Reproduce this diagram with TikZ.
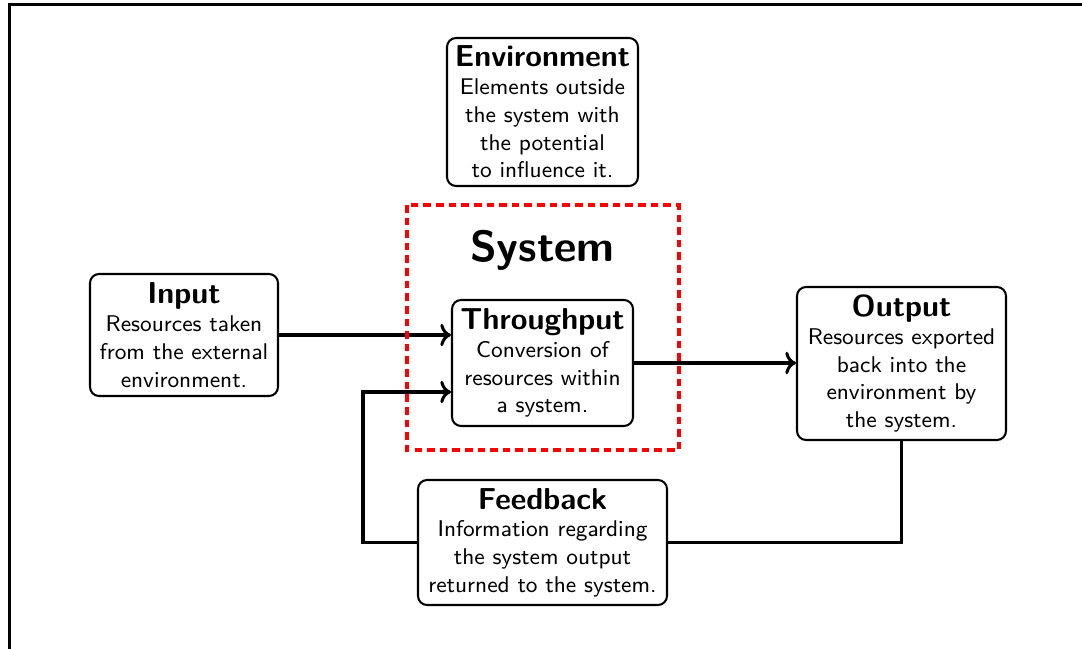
\documentclass[tikz,border=0pt]{standalone}
\usetikzlibrary{arrows.meta}
% one drawing unit = 1/2.525 pt
\def\pxu{0.39604pt}
\newcommand\boxtitle{\large\bfseries}
\begin{document}
\begin{tikzpicture}[x=\pxu,y=-\pxu,
  box/.style={draw, thick, rounded corners=3.6pt, fill=white,
    align=center, inner sep=0pt, font=\small\sffamily},
  flow/.style={very thick},
  flowarrow/.style={flow, ->},
  sysframe/.style={red, very thick, densely dashed},
]
\useasboundingbox (0,0) rectangle (1082,649);

% outer frame (only its top and left edges fall on the page)
\begin{scope}
  \clip (0,0) rectangle (1082,649);
  \draw[line width=1.4pt] (9.5,700) -- (9.5,4.5) -- (1100,4.5);
\end{scope}

% component boxes
\node[box, minimum width={191*\pxu}, minimum height={148*\pxu}] (env) at (542.5,112)
  {{\boxtitle Environment}\\ Elements outside\\ the system with\\ the potential\\ to influence it.};
\node[box, minimum width={188*\pxu}, minimum height={122*\pxu}] (input) at (184,335)
  {{\boxtitle Input}\\ Resources taken\\ from the external\\ environment.};
\node[box, minimum width={181*\pxu}, minimum height={126*\pxu}] (thru) at (542.5,363)
  {{\boxtitle Throughput}\\ Conversion of\\ resources within\\ a system.};
\node[box, minimum width={209*\pxu}, minimum height={153*\pxu}] (out) at (901.5,363.5)
  {{\boxtitle Output}\\ Resources exported\\ back into the\\ environment by\\ the system.};
\node[box, minimum width={249*\pxu}, minimum height={125*\pxu}] (fb) at (542.5,542.5)
  {{\boxtitle Feedback}\\ Information regarding\\ the system output\\ returned to the system.};

% connectors
\coordinate (fbcorner) at (363,392);
\coordinate (outcorner) at (out.south |- fb.east);
\draw[flowarrow] (input.east) -- (input.east -| thru.west);
\draw[flowarrow] (thru.east) -- (thru.east -| out.west);
\draw[flow] (out.south) -- (outcorner) -- (fb.east);
\draw[flowarrow] (fb.west) -| (fbcorner) -- (fbcorner -| thru.west);

% system boundary
\draw[sysframe] (407,205) rectangle (679,450);
\node[font=\sffamily\LARGE\bfseries] (systitle) at (542.5,250) {System};
\end{tikzpicture}
\end{document}
